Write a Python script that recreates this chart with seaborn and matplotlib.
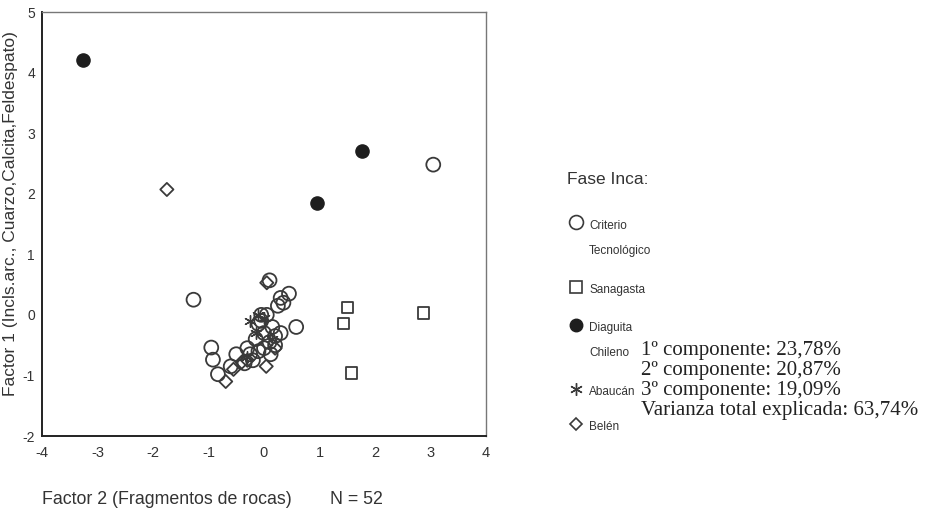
import matplotlib
matplotlib.use("Agg")
import matplotlib.pyplot as plt
from matplotlib.lines import Line2D
import numpy as np
import pandas as pd
import seaborn as sns

# ---- data (Factor 2 on x, Factor 1 on y) ----
criterio_x = [3.05, -1.27, 0.10, 0.30, 0.45, 0.58, -0.95, -0.92, -0.83, -0.50,
              -0.30, -0.15, 0.00, 0.10, 0.20, -0.05, 0.05, -0.10, 0.15, -0.20,
              0.25, 0.30, -0.35, 0.00, -0.10, 0.12, -0.60, 0.35, -0.05, 0.20, -0.25]
criterio_y = [2.48, 0.25, 0.57, 0.28, 0.35, -0.20, -0.54, -0.74, -0.98, -0.65,
              -0.55, -0.40, -0.30, -0.45, -0.50, -0.10, 0.00, -0.60, -0.20, -0.75,
              0.15, -0.30, -0.80, -0.55, -0.15, -0.65, -0.85, 0.20, 0.00, -0.35, -0.65]
sanagasta_x = [1.51, 1.44, 2.87, 1.58]
sanagasta_y = [0.12, -0.15, 0.03, -0.96]
diaguita_x = [-3.27, 0.95, 1.76]
diaguita_y = [4.20, 1.84, 2.70]
abaucan_x = [-0.25, -0.10, 0.00, -0.30, 0.15, -0.15]
abaucan_y = [-0.10, 0.00, -0.05, -0.70, -0.40, -0.30]
belen_x = [-1.75, 0.05, -0.69, 0.04, -0.40, -0.55, 0.20, -0.30]
belen_y = [2.07, 0.53, -1.10, -0.85, -0.78, -0.90, -0.55, -0.75]

x_ticks = [-4, -3, -2, -1, 0, 1, 2, 3, 4]
y_ticks = [-2, -1, 0, 1, 2, 3, 4, 5]

groups = ["Criterio Tecnológico", "Sanagasta", "Diaguita Chileno", "Abaucán", "Belén"]
legend_labels = ["Criterio\nTecnológico", "Sanagasta", "Diaguita\nChileno", "Abaucán", "Belén"]
stats_lines = ["1º componente: 23,78%", "2º componente: 20,87%",
               "3º componente: 19,09%", "Varianza total explicada: 63,74%"]

df = pd.concat([
    pd.DataFrame({"f2": criterio_x, "f1": criterio_y, "fase": groups[0]}),
    pd.DataFrame({"f2": sanagasta_x, "f1": sanagasta_y, "fase": groups[1]}),
    pd.DataFrame({"f2": diaguita_x, "f1": diaguita_y, "fase": groups[2]}),
    pd.DataFrame({"f2": abaucan_x, "f1": abaucan_y, "fase": groups[3]}),
    pd.DataFrame({"f2": belen_x, "f1": belen_y, "fase": groups[4]}),
], ignore_index=True)

sns.set_style("white")
plt.rcParams["font.family"] = ["Liberation Sans", "DejaVu Sans"]

EDGE = "#3a3a3a"
styles = {
    groups[0]: dict(marker="o", s=100, facecolors="none", edgecolors=EDGE, linewidths=1.3),
    groups[1]: dict(marker="s", s=64, facecolors="none", edgecolors=EDGE, linewidths=1.3),
    groups[2]: dict(marker="o", s=90, facecolors="#1e1e1e", edgecolors="#1e1e1e", linewidths=1.0),
    groups[3]: dict(marker=(6, 2, 0), s=70, color=EDGE, linewidths=1.0),
    groups[4]: dict(marker="D", s=45, facecolors="none", edgecolors=EDGE, linewidths=1.3),
}

fig = plt.figure(figsize=(9.26, 5.12), dpi=100)
ax = fig.add_axes([42 / 926, 1 - 436 / 512, (486 - 42) / 926, (436 - 12) / 512])

for g in groups:
    sub = df[df["fase"] == g]
    sns.scatterplot(data=sub, x="f2", y="f1", ax=ax, legend=False, **styles[g])

ax.set_xlim(-4, 4)
ax.set_ylim(-2, 5)
ax.set_xticks(x_ticks)
ax.set_yticks(y_ticks)
ax.set_xticklabels([str(t) for t in x_ticks], fontsize=10.5, color="#333333")
ax.set_yticklabels([str(t) for t in y_ticks], fontsize=10, color="#333333")
ax.tick_params(axis="x", which="major", direction="out", length=3, width=2,
               color="#222222", pad=4)
ax.tick_params(axis="y", which="major", direction="out", length=3, width=2,
               color="#222222", pad=2)
ax.set_xlabel("")
ax.set_ylabel("")
for side in ["left", "bottom"]:
    ax.spines[side].set_color("#222222")
    ax.spines[side].set_linewidth(1.4)
for side in ["top", "right"]:
    ax.spines[side].set_color("#777777")
    ax.spines[side].set_linewidth(1.0)

# axis titles
fig.text(11 / 926, 1 - 214 / 512, "Factor 1 (Incls.arc., Cuarzo,Calcita,Feldespato)",
         rotation=90, ha="center", va="center", fontsize=12.5, color="#333333")
fig.text(42 / 926, 1 - 500 / 512, "Factor 2 (Fragmentos de rocas)",
         ha="left", va="center", fontsize=12.8, color="#333333")
fig.text(330 / 926, 1 - 500 / 512, "N = 52",
         ha="left", va="center", fontsize=12.8, color="#333333")

# manual legend
fig.text(567 / 926, 1 - 180 / 512, "Fase Inca:", ha="left", va="center",
         fontsize=12.5, color="#333333")
leg_markers = [
    dict(marker="o", markersize=10, markerfacecolor="none", markeredgecolor=EDGE, markeredgewidth=1.2),
    dict(marker="s", markersize=8, markerfacecolor="none", markeredgecolor=EDGE, markeredgewidth=1.2),
    dict(marker="o", markersize=9, markerfacecolor="#1e1e1e", markeredgecolor="#1e1e1e"),
    dict(marker=(6, 2, 0), markersize=9, color=EDGE, markeredgewidth=1.0),
    dict(marker="D", markersize=6.5, markerfacecolor="none", markeredgecolor=EDGE, markeredgewidth=1.2),
]
marker_y = [222, 287, 325, 389, 424]
text_y = [226, 290, 328, 392, 427]
for lab, my, ty, mk in zip(legend_labels, marker_y, text_y, leg_markers):
    fig.add_artist(Line2D([576 / 926], [1 - my / 512], transform=fig.transFigure,
                          linestyle="none", **mk))
    for i, ln in enumerate(lab.split("\n")):
        fig.text(589 / 926, 1 - (ty + i * 25) / 512, ln, ha="left", va="center",
                 fontsize=8.5, color="#333333")

# variance text
for i, ln in enumerate(stats_lines):
    fig.text(641 / 926, 1 - (350 + i * 20) / 512, ln, ha="left", va="center",
             fontsize=15, color="#222222", family=["Liberation Serif", "DejaVu Serif"])

fig.savefig("out.png", dpi=100)
